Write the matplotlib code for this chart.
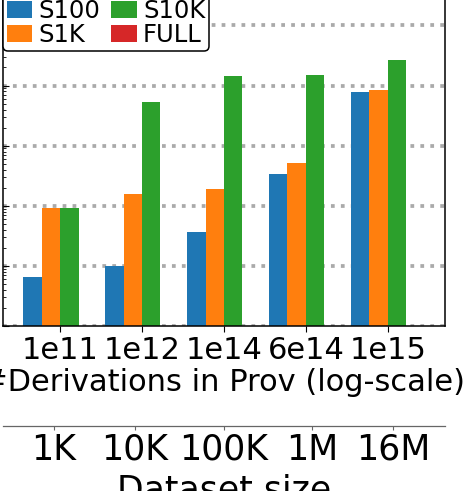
import matplotlib.pyplot as plt
import numpy as np

# derivation counts (bottom axis) and dataset sizes (second axis)
derivations = ["1e11", "1e12", "1e14", "6e14", "1e15"]
sizes = ["1K", "10K", "100K", "1M", "16M"]
size_pos = [0.116, 0.299, 0.5, 0.699, 0.882]

series = ["S100", "S1K", "S10K", "FULL"]
s100 = [6.6, 9.8, 36, 340, 7800]
s1k = [93, 160, 190, 525, 8500]
s10k = [93, 5400, 14500, 15100, 27000]
full = [np.nan, np.nan, np.nan, np.nan, np.nan]
colors = ["tab:blue", "tab:orange", "tab:green", "tab:red"]

fig = plt.figure(figsize=(4.67, 4.91), dpi=100)
ax = fig.add_axes([0.0058, 0.336, 0.9475, 0.6978])

x = np.arange(len(derivations))
w = 0.225
for i, (name, vals) in enumerate(zip(series, [s100, s1k, s10k, full])):
    ax.bar(x + (i - 1.5) * w, vals, w, color=colors[i], label=name, linewidth=0)

ax.set_yscale("log")
ax.set_ylim(1, 10 ** 5.7)
ax.set_xlim(-0.7, 4.7)
ax.set_axisbelow(True)
ax.yaxis.grid(True, which="major", linestyle=":", linewidth=2.7, color="#aaaaaa")

ax.set_xticks(x)
ax.set_xticklabels(derivations, fontsize=22)
ax.set_xlabel("#Derivations in Prov (log-scale)", fontsize=22, labelpad=2)
ax.tick_params(axis="x", length=4.5, pad=3)
ax.tick_params(axis="y", which="both", direction="in", left=True, right=False,
               labelleft=False)
ax.tick_params(axis="y", which="major", length=4)
ax.tick_params(axis="y", which="minor", length=2)
for sp in ax.spines.values():
    sp.set_linewidth(1.1)

leg = ax.legend(ncol=2, loc="lower left", bbox_to_anchor=(0.0014, 0.803),
                borderaxespad=0, fontsize=17.5, handlelength=1.05,
                handleheight=0.7, handletextpad=0.25, columnspacing=0.45,
                labelspacing=0.0, borderpad=0.15, framealpha=1, fancybox=True)
leg.get_frame().set_edgecolor("black")
leg.get_frame().set_linewidth(1.1)

# dataset size axis below
ax2 = ax.twiny()
ax2.set_xlim(0, 1)
ax2.xaxis.set_ticks_position("bottom")
ax2.xaxis.set_label_position("bottom")
ax2.spines["bottom"].set_position(("outward", 72))
for s in ["top", "left", "right"]:
    ax2.spines[s].set_visible(False)
ax2.spines["bottom"].set_color("#666666")
ax2.spines["bottom"].set_linewidth(0.9)
ax2.set_xticks(size_pos)
ax2.set_xticklabels(sizes, fontsize=25)
ax2.tick_params(axis="x", color="#666666", length=3, pad=2)
ax2.set_xlabel("Dataset size", fontsize=25, labelpad=5)

fig.savefig("out.png", dpi=100)
